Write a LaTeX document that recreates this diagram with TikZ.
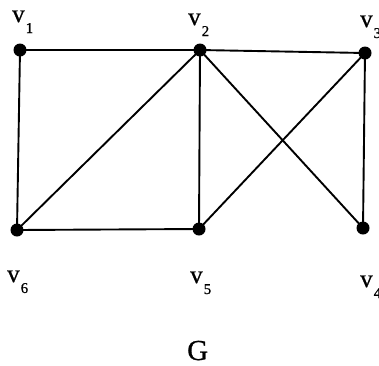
\documentclass[tikz,border=0pt]{standalone}
\usepackage{fontspec}
\setmainfont{Liberation Serif}
\newfontfamily\labfont{Liberation Serif}[FakeBold=0.8]
\newcommand{\vlab}[1]{\labfont\fontsize{25}{25}\selectfont v\kern1pt\raisebox{-11pt}{\fontsize{15}{15}\selectfont #1}}
\begin{document}
\begin{tikzpicture}[x=1pt,y=-1pt,
  vert/.style={circle,fill=black,inner sep=0pt,minimum size=13pt},
  edge/.style={line width=1.9pt},
  lab/.style={anchor=base west,inner sep=0pt}]
\useasboundingbox (0,0) rectangle (379,365);
\node[vert] (v1) at (20,50) {};
\node[vert] (v2) at (200,50) {};
\node[vert] (v3) at (365,53) {};
\node[vert] (v4) at (363,228) {};
\node[vert] (v5) at (199,229) {};
\node[vert] (v6) at (17,230) {};
\draw[edge] (v1.center) -- (v2.center) -- (v3.center);
\draw[edge] (v1.center) -- (v6.center) -- (v5.center);
\draw[edge] (v2.center) -- (v6.center);
\draw[edge] (v2.center) -- (v5.center);
\draw[edge] (v2.center) -- (v4.center);
\draw[edge] (v3.center) -- (v5.center);
\draw[edge] (v3.center) -- (v4.center);
\node[lab] (l1) at (12,22) {\vlab{1}};
\node[lab] (l2) at (188,25) {\vlab{2}};
\node[lab] (l3) at (360,27) {\vlab{3}};
\node[lab] (l6) at (7,282) {\vlab{6}};
\node[lab] (l5) at (190,283) {\vlab{5}};
\node[lab] (l4) at (360,287) {\vlab{4}};
\node[lab] (g) at (187,360) {\labfont\fontsize{29}{29}\selectfont G};
\end{tikzpicture}
\end{document}
